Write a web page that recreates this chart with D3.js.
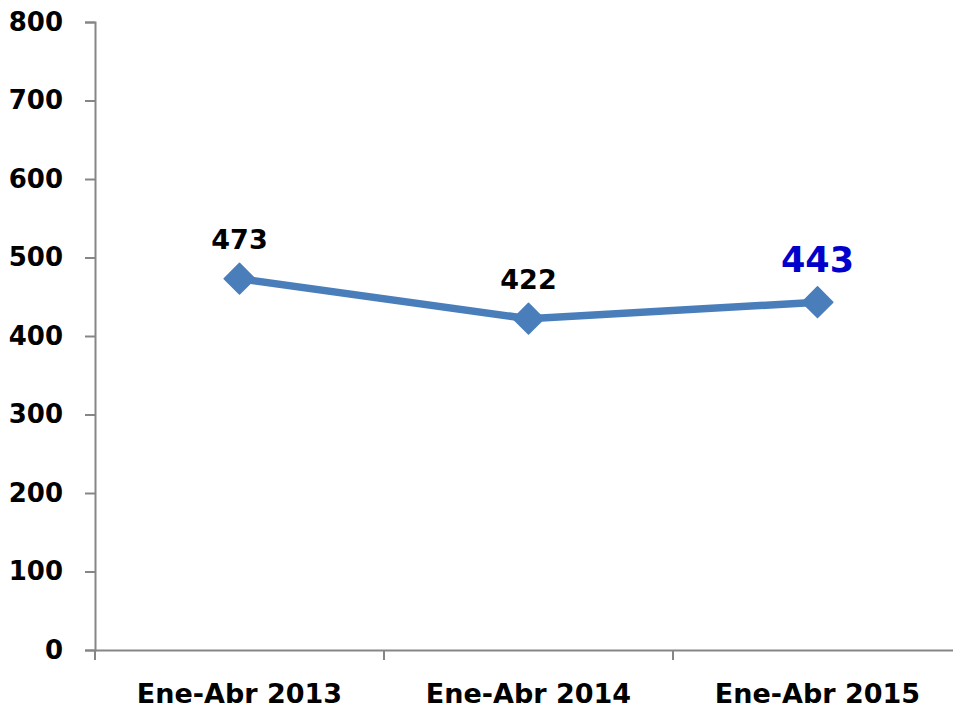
<!DOCTYPE html>
<html>
<head>
<meta charset="utf-8">
<script src="https://cdn.jsdelivr.net/npm/d3@7"></script>
<style>
  body { margin: 0; background: #fff; }
  text { font-family: "DejaVu Sans", Arial, sans-serif; font-weight: bold; }
</style>
</head>
<body>
<svg id="chart" width="953" height="709"></svg>
<script>
var categories = ['Ene-Abr 2013', 'Ene-Abr 2014', 'Ene-Abr 2015'];
var values = [473, 422, 443];
var yTicks = [0, 100, 200, 300, 400, 500, 600, 700, 800];

var svg = d3.select('#chart'),
  plotLeft = 95, plotRight = 962, plotTop = 22, plotBottom = 650;

var x = d3.scaleBand().domain(categories).range([plotLeft, plotRight]);
var y = d3.scaleLinear().domain([0, 800]).range([plotBottom, plotTop]);

// y axis
var yAxis = svg.append('g')
  .attr('transform', 'translate(' + plotLeft + ',0)')
  .call(d3.axisLeft(y).tickValues(yTicks).tickSize(10).tickPadding(22));
yAxis.select('.domain').attr('stroke', '#868686').attr('stroke-width', 2);
yAxis.selectAll('.tick line').attr('stroke', '#868686').attr('stroke-width', 2);
yAxis.selectAll('.tick text')
  .attr('fill', '#000')
  .style('font-size', '26px')
  .style('font-family', '"DejaVu Sans", Arial, sans-serif')
  .style('font-weight', 'bold');

// x axis
var xAxis = svg.append('g')
  .attr('transform', 'translate(0,' + plotBottom + ')')
  .call(d3.axisBottom(x).tickSize(0).tickFormat(''));
xAxis.select('.domain').attr('stroke', '#868686').attr('stroke-width', 2);

// category boundary ticks
svg.append('g').selectAll('line')
  .data(categories)
  .join('line')
  .attr('x1', function(d) { return x(d); })
  .attr('x2', function(d) { return x(d); })
  .attr('y1', plotBottom)
  .attr('y2', plotBottom + 10)
  .attr('stroke', '#868686')
  .attr('stroke-width', 2);

svg.append('g').selectAll('text')
  .data(categories)
  .join('text')
  .attr('x', function(d) { return x(d) + x.bandwidth() / 2; })
  .attr('y', 703)
  .attr('text-anchor', 'middle')
  .style('font-size', '27px')
  .text(function(d) { return d; });

var cx = function(d, i) { return x(categories[i]) + x.bandwidth() / 2; };

// line
var line = d3.line()
  .x(function(d, i) { return cx(d, i); })
  .y(function(d) { return y(d); });

svg.append('path')
  .datum(values)
  .attr('d', line)
  .attr('fill', 'none')
  .attr('stroke', '#4A7EBB')
  .attr('stroke-width', 7.5);

svg.append('g').selectAll('path')
  .data(values)
  .join('path')
  .attr('d', d3.symbol().type(d3.symbolDiamond2).size(600))
  .attr('transform', function(d, i) { return 'translate(' + cx(d, i) + ',' + y(d) + ')'; })
  .attr('fill', '#4A7EBB')
  .attr('stroke', '#4A7EBB')
  .attr('stroke-width', 1.5)
  .attr('stroke-linejoin', 'round');

// value labels
svg.append('g').selectAll('text')
  .data(values)
  .join('text')
  .attr('x', function(d, i) { return cx(d, i); })
  .attr('y', function(d) { return y(d) - 30; })
  .attr('text-anchor', 'middle')
  .attr('fill', function(d, i) { return i === values.length - 1 ? '#0000CC' : '#000'; })
  .style('font-size', function(d, i) { return i === values.length - 1 ? '35px' : '27px'; })
  .text(function(d) { return d; });
</script>
</body>
</html>
